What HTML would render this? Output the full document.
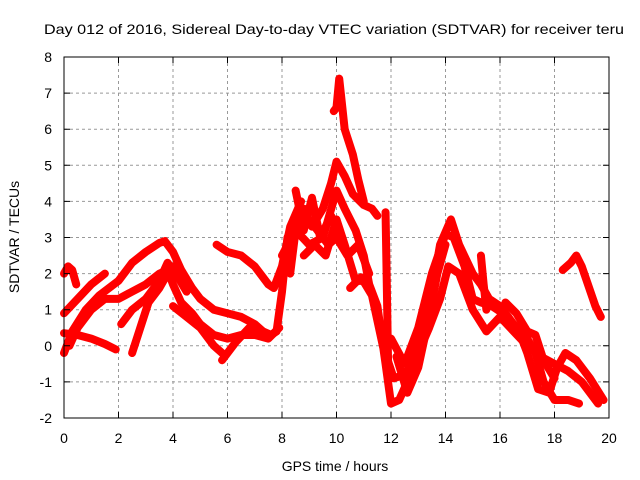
<!DOCTYPE html>
<html><head><meta charset="utf-8"><style>
body{margin:0;background:#fff;}
svg{display:block;font-family:"Liberation Sans",sans-serif;}
</style></head><body>
<svg id="chart" width="640" height="480" viewBox="0 0 640 480">
<text x="44" y="34" font-size="14" textLength="580" lengthAdjust="spacingAndGlyphs">Day 012 of 2016, Sidereal Day-to-day VTEC variation (SDTVAR) for receiver teru</text>
<g id="grid"></g>
<g id="series"></g>
<rect x="64" y="57" width="545" height="361" fill="none" stroke="#000" stroke-width="1"/>
<g id="axes" font-size="14"></g>
<text x="335" y="471" font-size="14" text-anchor="middle">GPS time / hours</text>
<text transform="translate(19,237) rotate(-90)" font-size="14" text-anchor="middle">SDTVAR / TECUs</text>
</svg>
<script>
const xTicks=[0,2,4,6,8,10,12,14,16,18,20];
const yTicks=[-2,-1,0,1,2,3,4,5,6,7,8];
const sA=[[0,2.0],[0.15,2.2],[0.3,2.1],[0.45,1.7]];
const sB=[[0,0.9],[0.5,1.3],[1,1.7],[1.5,2.0]];
const sC=[[0,0.35],[0.5,0.3],[1,0.2],[1.5,0.05],[1.9,-0.1]];
const sD=[[0,-0.2],[0.3,0.4],[0.8,1.0],[1.3,1.4],[2,1.8],[2.5,2.3],[3,2.6],[3.5,2.85],[3.7,2.9],[4,2.6],[4.3,2.1],[4.7,1.6],[5,1.3],[5.5,1.0],[6,0.9],[6.5,0.8],[7,0.6],[7.3,0.4],[7.6,0.3],[7.8,0.4]];
const sE=[[0.2,0.0],[0.5,0.5],[1,1.0],[1.5,1.3],[2,1.3],[2.5,1.5],[3,1.7],[3.5,2.0],[3.8,2.1],[4,1.7],[4.3,1.2],[4.7,0.9],[5,0.6],[5.5,0.3],[6,0.2],[6.5,0.3],[7,0.3],[7.5,0.2],[7.9,0.5]];
const sF=[[2.1,0.6],[2.5,1.0],[3,1.3],[3.5,1.8],[3.8,2.3],[4.1,2.0],[4.5,1.5]];
const sG=[[2.5,-0.2],[2.8,0.5],[3.1,1.2],[3.5,1.6],[3.8,2.0],[4.0,2.2],[4.3,1.8]];
const sH=[[4.0,1.1],[4.5,0.8],[5,0.5],[5.5,0.0],[5.8,-0.2]];
const sH2=[[5.8,-0.4],[6.3,0.1],[6.8,0.5],[7.3,0.4]];
const sI=[[5.6,2.8],[6,2.6],[6.5,2.5],[7,2.2],[7.5,1.7],[7.7,1.6],[8,2.2],[8.3,3.3],[8.7,4.0]];
const sJ=[[7.8,0.4],[8,1.5],[8.2,3.0],[8.5,3.5],[8.8,3.8],[9.1,3.3],[9.5,3.8],[9.8,4.5],[10,5.1],[10.3,4.7],[10.6,4.2],[11,3.9],[11.3,3.8],[11.5,3.6]];
const sK=[[8,2.5],[8.5,3.2],[9,2.8],[9.5,3.0],[10,4.3],[10.3,3.8],[10.7,3.2],[11,2.5],[11.2,1.7],[11.5,1.1],[11.8,-0.5],[12,-1.6],[12.3,-1.5],[12.6,-1.0],[13,0.0],[13.5,1.5],[13.8,2.8],[14.2,3.5],[14.5,2.8],[15,2.0],[15.3,1.7],[15.6,1.3],[16,1.1],[16.5,0.6],[17,0.2],[17.3,-0.2],[17.6,-1.0],[18,-1.5],[18.5,-1.5],[18.9,-1.6]];
const sL=[[10.5,1.6],[10.9,1.9],[11.3,1.4],[11.7,0.0],[12.1,-0.9],[12.5,-0.8],[13,-0.2],[13.4,0.5],[13.8,1.3],[14.1,2.2],[14.5,2.0],[15,1.0],[15.5,0.4],[16,0.8],[16.5,0.4],[17,0.0],[17.5,-0.3],[18,-0.5],[18.5,-0.7],[19,-1.0],[19.6,-1.6]];
const sM=[[9.9,6.5],[10.0,6.6],[10.1,7.4],[10.3,6.0],[10.6,5.3],[10.8,4.6],[11,4.0]];
const sSpike=[[11.8,3.7],[11.85,1.5],[11.9,-0.8]];
const sN=[[12,0.2],[12.5,-0.5],[13,0.5],[13.5,2.0],[14,3.1],[14.3,3.0],[14.7,2.2],[15,1.3],[15.3,1.2],[15.7,1.1],[16.3,0.8],[16.8,0.2],[17,-0.2],[17.4,-1.2],[17.8,-1.3],[18.1,-0.6],[18.4,-0.2],[18.8,-0.4],[19.3,-0.9],[19.8,-1.5]];
const sSpike2=[[15.3,2.5],[15.4,1.7],[15.5,1.0]];
const sO=[[18.3,2.1],[18.6,2.3],[18.8,2.5],[19.0,2.2],[19.5,1.1],[19.7,0.8]];
const sP=[[8.8,2.5],[9.2,2.8],[9.6,2.5],[10,3.5],[10.3,2.8],[10.7,1.8],[11,1.8]];
const sQ=[[8.5,4.3],[8.8,3.2],[9.1,4.1],[9.4,3.0],[9.8,3.6],[10.2,3.0]];
const sR=[[8.3,2.0],[8.6,3.8],[9,3.5],[9.3,3.2],[9.7,2.8],[10,3.0],[10.4,2.5],[10.8,2.8],[11.2,2.0]];
const sS=[[12.2,-0.3],[12.6,-1.3],[13,-0.6],[13.4,0.8],[13.7,2.0],[14,2.8]];
const sT=[[16.2,1.2],[16.6,0.9],[17,0.4],[17.3,0.3],[17.6,-0.4],[18,-0.9]];
const allSeries=[sA,sB,sC,sD,sE,sF,sG,sH,sH2,sI,sJ,sK,sL,sM,sSpike,sN,sSpike2,sO,sP,sQ,sR,sS,sT];

const X0=64,X1=609,Y0=418,Y1=57;
const xs=h=>X0+h/20*(X1-X0);
const ys=v=>Y0-(v+2)/10*(Y0-Y1);
const NS="http://www.w3.org/2000/svg";
const grid=document.getElementById('grid'),axes=document.getElementById('axes'),ser=document.getElementById('series');
function mk(tag,at){const e=document.createElementNS(NS,tag);for(const k in at)e.setAttribute(k,at[k]);return e;}
xTicks.forEach(t=>{
  const x=xs(t);
  if(t>0&&t<20){const g=mk('line',{x1:x,x2:x,y1:Y1,y2:Y0,stroke:'#999','stroke-dasharray':'3,3'});
  
  grid.appendChild(g);}
  const tk=mk('path',{d:`M${x},${Y0}v-6M${x},${Y1}v6`,stroke:'#000'});
  
  axes.appendChild(tk);
  const l=mk('text',{x:x,y:443,'text-anchor':'middle'});l.textContent=t;
  
  axes.appendChild(l);
});
yTicks.forEach(t=>{
  const y=ys(t);
  if(t>-2&&t<8){const g=mk('line',{x1:X0,x2:X1,y1:y,y2:y,stroke:'#999','stroke-dasharray':'3,3'});
  
  grid.appendChild(g);}
  const tk=mk('path',{d:`M${X0},${y}h6M${X1},${y}h-6`,stroke:'#000'});
  
  axes.appendChild(tk);
  const l=mk('text',{x:52,y:y+5,'text-anchor':'end'});l.textContent=t;
  
  axes.appendChild(l);
});
allSeries.forEach(s=>{
  const p=mk('polyline',{points:s.map(d=>xs(d[0])+','+ys(d[1])).join(' '),fill:'none',stroke:'#ff0000','stroke-width':8,'stroke-linejoin':'round','stroke-linecap':'round'});
  
  
  ser.appendChild(p);
});
</script>
</body></html>
